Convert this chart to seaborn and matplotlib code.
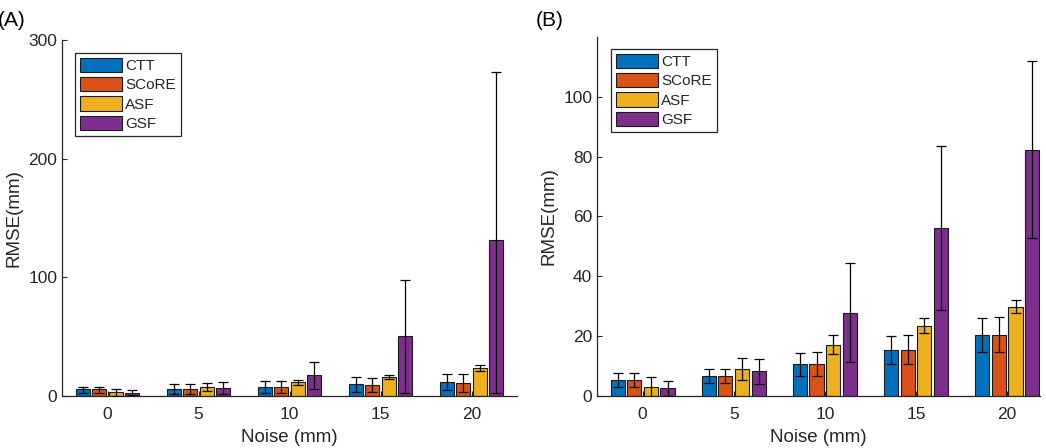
import numpy as np
import pandas as pd
import matplotlib
matplotlib.use("Agg")
import matplotlib.pyplot as plt
import seaborn as sns

# ---------------- data ----------------
noise_levels = ["0", "5", "10", "15", "20"]
methods = ["CTT", "SCoRE", "ASF", "GSF"]
colors = ["#0072BD", "#D95319", "#EDB120", "#7E2F8E"]

# Panel A: means with lower / upper error-bar ends
a_ctt = [5.5, 6.2, 7.7, 10.0, 12.2]
a_ctt_lo = [2.5, 1.8, 2.6, 3.5, 5.2]
a_ctt_hi = [7.6, 10.0, 12.5, 15.7, 18.8]
a_score = [5.5, 6.2, 7.5, 9.2, 10.8]
a_score_lo = [2.8, 1.8, 2.5, 3.2, 3.3]
a_score_hi = [7.6, 9.8, 12.6, 15.1, 18.2]
a_asf = [3.3, 7.7, 11.6, 16.1, 23.3]
a_asf_lo = [0.3, 4.5, 9.4, 14.6, 20.8]
a_asf_hi = [6.3, 10.6, 13.2, 18.1, 25.8]
a_gsf = [2.4, 7.0, 17.3, 50.3, 131.2]
a_gsf_lo = [0.5, 2.0, 6.0, 2.5, 2.5]
a_gsf_hi = [4.8, 11.4, 28.4, 97.5, 272.8]

# Panel B: means with symmetric errors
b_ctt = [5.35, 6.8, 10.6, 15.4, 20.4]
b_ctt_err = [2.4, 2.3, 3.9, 4.8, 5.8]
b_score = [5.35, 6.8, 10.7, 15.5, 20.5]
b_score_err = [2.4, 2.3, 3.9, 4.8, 5.9]
b_asf = [3.1, 9.1, 17.2, 23.5, 29.9]
b_asf_err = [3.4, 3.6, 3.3, 2.5, 2.3]
b_gsf = [2.6, 8.2, 27.9, 56.0, 82.3]
b_gsf_err = [2.5, 4.2, 16.4, 27.4, 29.6]

# ---------------- style ----------------
sns.set_theme(style="white")
plt.rcParams["font.family"] = ["Liberation Sans", "DejaVu Sans"]
axcol = "#262626"
plt.rcParams.update({
    "axes.edgecolor": axcol,
    "xtick.color": axcol,
    "ytick.color": axcol,
    "axes.labelcolor": axcol,
    "xtick.direction": "in",
    "ytick.direction": "in",
    "xtick.bottom": True,
    "ytick.left": True,
})

W, H = 1046, 448
fig = plt.figure(figsize=(W / 100, H / 100), dpi=100)


def make_panel(rect, means, lows, highs, ylim, yticks, xlim, letter, letter_xy, legend_xy):
    ax = fig.add_axes(rect)
    rows = []
    for m, vals in zip(methods, means):
        for n, v in zip(noise_levels, vals):
            rows.append({"Noise": n, "Method": m, "RMSE": v})
    df = pd.DataFrame(rows)
    sns.barplot(data=df, x="Noise", y="RMSE", hue="Method", order=noise_levels,
                hue_order=methods, palette=colors, saturation=1, errorbar=None,
                width=0.73, gap=0.15, edgecolor="#1a1a1a", linewidth=0.8,
                legend=False, ax=ax)
    for cont, vals, lo, hi in zip(ax.containers, means, lows, highs):
        xs = [p.get_x() + p.get_width() / 2 for p in cont.patches]
        vals = np.array(vals)
        yerr = np.vstack([vals - np.array(lo), np.array(hi) - vals])
        ax.errorbar(xs, vals, yerr=yerr, fmt="none", ecolor="black",
                    elinewidth=0.9, capsize=3.3, capthick=0.9, zorder=5)
    ax.set_ylim(*ylim)
    ax.set_yticks(yticks)
    ax.set_xlim(*xlim)
    ax.set_xlabel("Noise (mm)", fontsize=13.5, labelpad=5)
    ax.set_ylabel("RMSE(mm)", fontsize=13.5, labelpad=4)
    ax.tick_params(axis="both", labelsize=12.5, length=3.5, width=0.8)
    ax.tick_params(axis="x", pad=8)
    sns.despine(ax=ax, top=True, right=True)
    for s in ("left", "bottom"):
        ax.spines[s].set_linewidth(0.9)
    leg = ax.legend(ax.containers, methods, loc="upper left",
                    bbox_to_anchor=legend_xy, bbox_transform=fig.transFigure,
                    fontsize=11, frameon=True, fancybox=False, framealpha=1,
                    edgecolor=axcol, handlelength=2.8, handleheight=1.05,
                    labelspacing=0.27, handletextpad=0.2, borderpad=0.3,
                    borderaxespad=0)
    leg.get_frame().set_linewidth(0.9)
    fig.text(letter_xy[0], letter_xy[1], letter, fontsize=15, color="black",
             ha="left", va="top")
    return ax


# Panel A
make_panel([62 / W, 1 - 396 / H, (517 - 62) / W, (396 - 40) / H],
           [a_ctt, a_score, a_asf, a_gsf],
           [a_ctt_lo, a_score_lo, a_asf_lo, a_gsf_lo],
           [a_ctt_hi, a_score_hi, a_asf_hi, a_gsf_hi],
           (0, 300), [0, 100, 200, 300], (-0.5, 4.5), "(A)",
           (-2 / W, 1 - 11 / H), (75 / W, 1 - 53 / H))

# Panel B
bm = [b_ctt, b_score, b_asf, b_gsf]
be = [b_ctt_err, b_score_err, b_asf_err, b_gsf_err]
b_lo = [list(np.array(m) - np.array(e)) for m, e in zip(bm, be)]
b_hi = [list(np.array(m) + np.array(e)) for m, e in zip(bm, be)]
make_panel([597 / W, 1 - 396 / H, (1040 - 597) / W, (396 - 37) / H],
           bm, b_lo, b_hi,
           (0, 120), [0, 20, 40, 60, 80, 100], (-0.5, 4.36), "(B)",
           (536 / W, 1 - 11 / H), (611 / W, 1 - 49 / H))

fig.savefig("out.png", dpi=100)
